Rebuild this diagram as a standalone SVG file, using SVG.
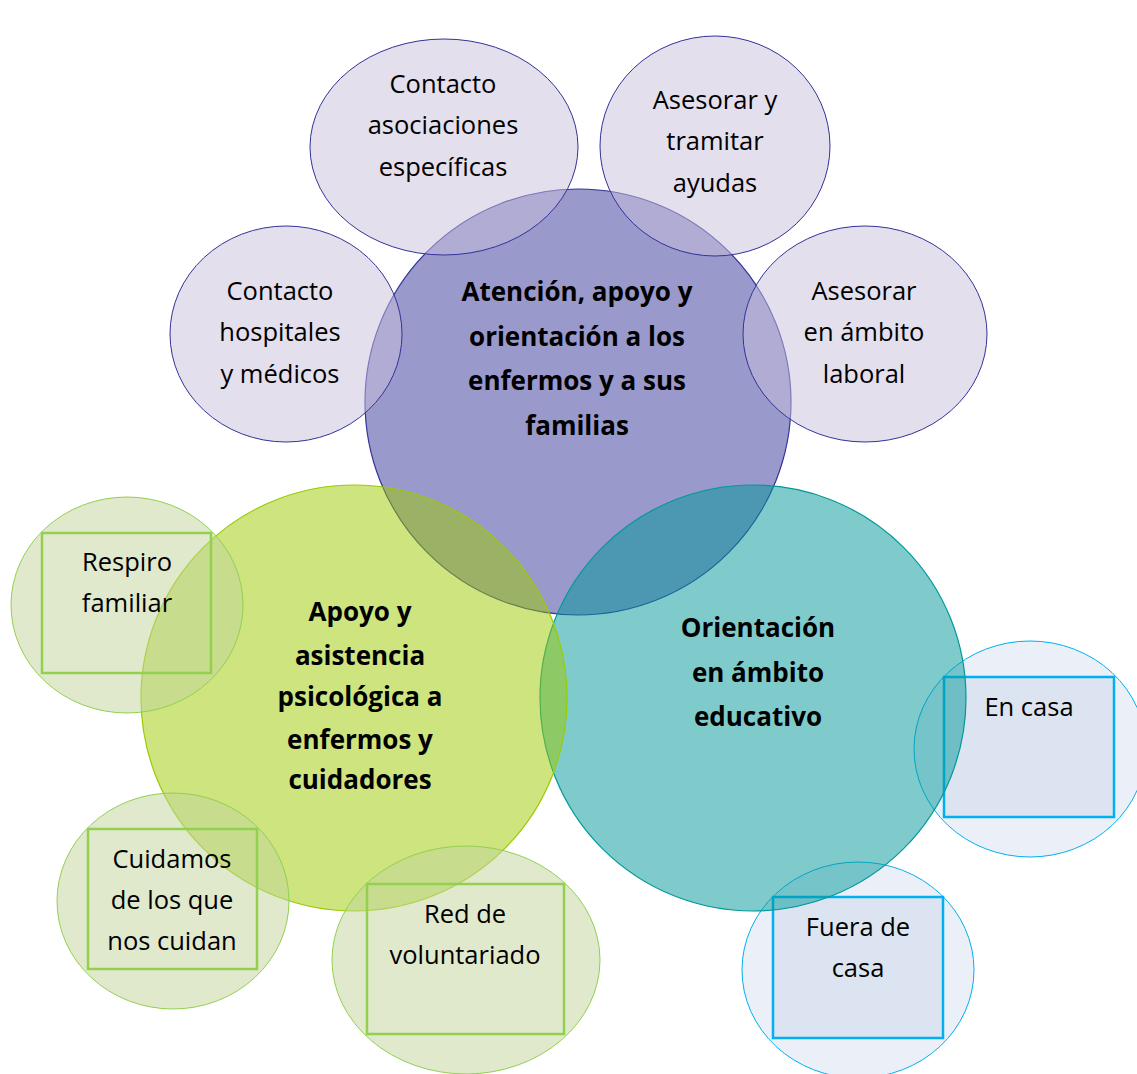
<svg xmlns="http://www.w3.org/2000/svg" width="1137" height="1074" viewBox="0 0 1137 1074">
<style>
.bg{fill:#ffffff}
.main-p{fill:#333399;fill-opacity:0.5;stroke:#333399;stroke-width:1.2}
.main-t{fill:#009799;fill-opacity:0.5;stroke:#009999;stroke-width:1.2}
.main-g{fill:#9bc900;fill-opacity:0.5;stroke:#99cc00;stroke-width:1.2}
.sm-p{fill:#c7bfda;fill-opacity:0.5;stroke:#333399;stroke-width:1}
.sm-g{fill:#c1d399;fill-opacity:0.5;stroke:#92d050;stroke-width:1}
.sm-b{fill:#d7e1f1;fill-opacity:0.5;stroke:#00b0f0;stroke-width:1}
.rc-g{fill:none;stroke:#92d050;stroke-width:2.5}
.rc-b{fill:#cbd8e8;fill-opacity:0.5;stroke:#00b0f0;stroke-width:2.5}
text{font-family:"Open Sans","Liberation Sans",sans-serif;font-size:25.5px;fill:#000;text-anchor:middle}
.b{font-weight:bold;font-size:26px}
</style>
<rect class="bg" x="0" y="0" width="1137" height="1074"/>
<g id="connectors"></g>
<g id="n-atencion"><circle class="main-p" cx="578" cy="402" r="213"/></g>
<g id="n-asociaciones"><ellipse class="sm-p" cx="444" cy="147" rx="134" ry="108"/></g>
<g id="n-tramitar"><ellipse class="sm-p" cx="715" cy="146" rx="115" ry="110"/></g>
<g id="n-hospitales"><ellipse class="sm-p" cx="286" cy="334" rx="116" ry="108"/></g>
<g id="n-laboral"><ellipse class="sm-p" cx="865" cy="334" rx="122" ry="108"/></g>
<g id="n-encasa"><ellipse class="sm-b" cx="1030" cy="749" rx="116" ry="108"/><rect class="rc-b" x="944" y="677" width="170" height="140"/></g>
<g id="n-fuera"><ellipse class="sm-b" cx="858" cy="970" rx="116" ry="108"/><rect class="rc-b" x="773" y="897" width="170" height="141"/></g>
<g id="n-educativo"><circle class="main-t" cx="753" cy="698" r="213"/></g>
<g id="n-psicologica"><circle class="main-g" cx="354" cy="698" r="213"/></g>
<g id="n-respiro"><ellipse class="sm-g" cx="127" cy="605" rx="116" ry="108"/><rect class="rc-g" x="42" y="533" width="169" height="140"/></g>
<g id="n-cuidamos"><ellipse class="sm-g" cx="173" cy="901" rx="116" ry="108"/><rect class="rc-g" x="88" y="829" width="169" height="140"/></g>
<g id="n-voluntariado"><ellipse class="sm-g" cx="466" cy="960" rx="134" ry="114"/><rect class="rc-g" x="367" y="884" width="197" height="150"/></g>
<g id="labels">
<text x="443" y="93">Contacto</text>
<text x="443" y="134">asociaciones</text>
<text x="443" y="176">específicas</text>
<text x="715" y="109">Asesorar y</text>
<text x="715" y="150">tramitar</text>
<text x="715" y="192">ayudas</text>
<text x="280" y="300">Contacto</text>
<text x="280" y="341">hospitales</text>
<text x="280" y="383">y médicos</text>
<text x="864" y="300">Asesorar</text>
<text x="864" y="341">en ámbito</text>
<text x="864" y="383">laboral</text>
<text class="b" x="577" y="301">Atención, apoyo y</text>
<text class="b" x="577" y="346">orientación a los</text>
<text class="b" x="577" y="390">enfermos y a sus</text>
<text class="b" x="577" y="435">familias</text>
<text class="b" x="360" y="621">Apoyo y</text>
<text class="b" x="360" y="665">asistencia</text>
<text class="b" x="360" y="706">psicológica a</text>
<text class="b" x="360" y="749">enfermos y</text>
<text class="b" x="360" y="789">cuidadores</text>
<text class="b" x="758" y="637">Orientación</text>
<text class="b" x="758" y="682">en ámbito</text>
<text class="b" x="758" y="726">educativo</text>
<text x="127" y="571">Respiro</text>
<text x="127" y="612">familiar</text>
<text x="172" y="868">Cuidamos</text>
<text x="172" y="909">de los que</text>
<text x="172" y="950">nos cuidan</text>
<text x="465" y="923">Red de</text>
<text x="465" y="964">voluntariado</text>
<text x="1029" y="716">En casa</text>
<text x="858" y="936">Fuera de</text>
<text x="858" y="977">casa</text>
</g>
</svg>
